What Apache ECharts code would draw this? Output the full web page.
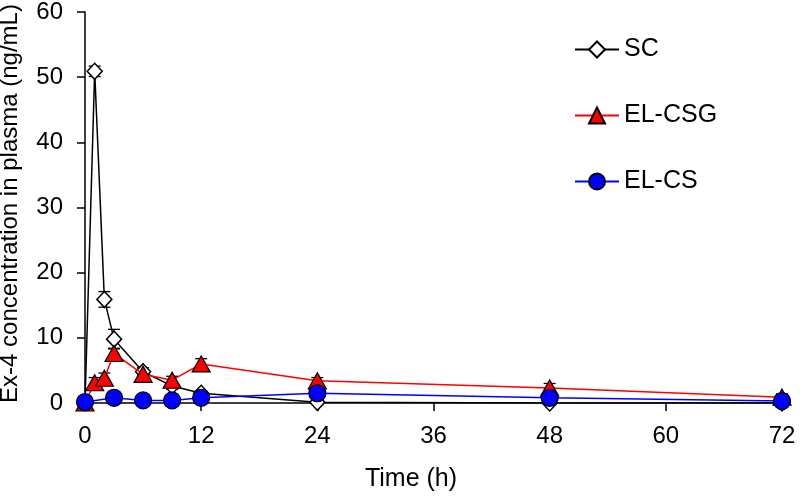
<!DOCTYPE html>
<html><head><meta charset="utf-8">
<script src="https://cdn.jsdelivr.net/npm/echarts@6/dist/echarts.min.js"></script>
<style>html,body{margin:0;padding:0;background:#fff}#c{width:800px;height:497px}</style>
</head><body><div id="c"></div>
<script>
const xTicks = [0, 12, 24, 36, 48, 60, 72];
const scTime = [0, 1, 2, 3, 6, 9, 12, 24, 48, 72];
const scVal  = [0, 50.9, 15.9, 9.8, 4.8, 2.6, 1.5, 0.1, 0, 0];
const scErr  = [0, 0.8, 1.2, 1.5, 0.6, 0.5, 0.4, 0.3, 0, 0];
const csgTime = [0, 1, 2, 3, 6, 9, 12, 24, 48, 72];
const csgVal  = [0, 3.1, 3.8, 7.6, 4.4, 3.5, 6.0, 3.4, 2.3, 0.9];
const csgErr  = [0, 0.8, 0.8, 0.8, 0.7, 0.6, 0.8, 0.5, 0.7, 0.5];
const csTime = [0, 3, 6, 9, 12, 24, 48, 72];
const csVal  = [0.15, 0.8, 0.4, 0.4, 0.8, 1.5, 0.8, 0.3];
const csErr  = [0.1, 0.3, 0.2, 0.2, 0.8, 0.4, 0.3, 0.2];

function pairs(t, v) { return t.map((x, i) => [x, v[i]]); }
function errData(t, v, e) { return t.map((x, i) => [x, v[i], e[i]]); }
function errSeries(name, t, v, e, color) {
  return {
    type: 'custom', name: name + '_err', silent: true, z: 1,
    data: errData(t, v, e),
    renderItem: function (params, api) {
      const x = api.value(0), y = api.value(1), err = api.value(2);
      if (!err) return null;
      const top = api.coord([x, y + err]);
      const bot = api.coord([x, y - err]);
      const cw = 6;
      const st = { stroke: color, lineWidth: 1.3 };
      return { type: 'group', children: [
        { type: 'line', shape: { x1: top[0], y1: top[1], x2: bot[0], y2: bot[1] }, style: st },
        { type: 'line', shape: { x1: top[0] - cw, y1: top[1], x2: top[0] + cw, y2: top[1] }, style: st },
        { type: 'line', shape: { x1: bot[0] - cw, y1: bot[1], x2: bot[0] + cw, y2: bot[1] }, style: st }
      ]};
    }
  };
}
const font = 'Liberation Sans, Arial, sans-serif';
const chart = echarts.init(document.getElementById('c'), null, { renderer: 'canvas' });
chart.setOption({
  animation: false,
  backgroundColor: '#fff',
  grid: { left: 85, right: 18, top: 12, bottom: 94, containLabel: false, outerBoundsMode: 'none' },
  legend: {
    orient: 'vertical', left: 569, top: 32, itemGap: 41,
    itemWidth: 44, itemHeight: 20,
    textStyle: { fontFamily: font, fontSize: 25, color: '#000' },
    data: ['SC', 'EL-CSG', 'EL-CS']
  },
  xAxis: {
    type: 'value', min: 0, max: 72, interval: 12,
    name: 'Time (h)', nameLocation: 'middle', nameGap: 64,
    nameTextStyle: { fontFamily: font, fontSize: 25, color: '#000', padding: [0, 45, 0, 0] },
    axisLine: { lineStyle: { color: '#000', width: 1.5 } },
    axisTick: { show: true, length: 8, lineStyle: { color: '#000', width: 1.5 } },
    axisLabel: { fontFamily: font, fontSize: 24, color: '#000', margin: 21,
      customValues: xTicks },
    splitLine: { show: false }
  },
  yAxis: {
    type: 'value', min: 0, max: 60, interval: 10,
    name: 'Ex-4 concentration in plasma (ng/mL)', nameLocation: 'middle', nameGap: 63,
    nameTextStyle: { fontFamily: font, fontSize: 24, color: '#000', padding: [0, 0, 0, 8] },
    axisLine: { show: true, lineStyle: { color: '#000', width: 1.5 } },
    axisTick: { show: true, length: 8, lineStyle: { color: '#000', width: 1.5 } },
    axisLabel: { fontFamily: font, fontSize: 24, color: '#000', margin: 22 },
    splitLine: { show: false }
  },
  series: [
    errSeries('SC', scTime, scVal, scErr, '#000'),
    errSeries('EL-CSG', csgTime, csgVal, csgErr, '#000'),
    errSeries('EL-CS', csTime, csVal, csErr, '#000'),
    {
      type: 'line', name: 'SC', data: pairs(scTime, scVal), z: 3,
      symbol: 'diamond', symbolSize: [15, 16], showAllSymbol: true,
      lineStyle: { color: '#000', width: 1.5 },
      itemStyle: { color: '#fff', borderColor: '#000', borderWidth: 1.5 }
    },
    {
      type: 'line', name: 'EL-CSG', data: pairs(csgTime, csgVal), z: 4,
      symbol: 'triangle', symbolSize: [18, 16], showAllSymbol: true,
      lineStyle: { color: '#ff0000', width: 1.5 },
      itemStyle: { color: '#ff0000', borderColor: '#000', borderWidth: 1.2 }
    },
    {
      type: 'line', name: 'EL-CS', data: pairs(csTime, csVal), z: 5,
      symbol: 'circle', symbolSize: 17, showAllSymbol: true,
      lineStyle: { color: '#0000ff', width: 1.5 },
      itemStyle: { color: '#0000ff', borderColor: '#000', borderWidth: 1.2 }
    }
  ]
});
</script></body></html>
